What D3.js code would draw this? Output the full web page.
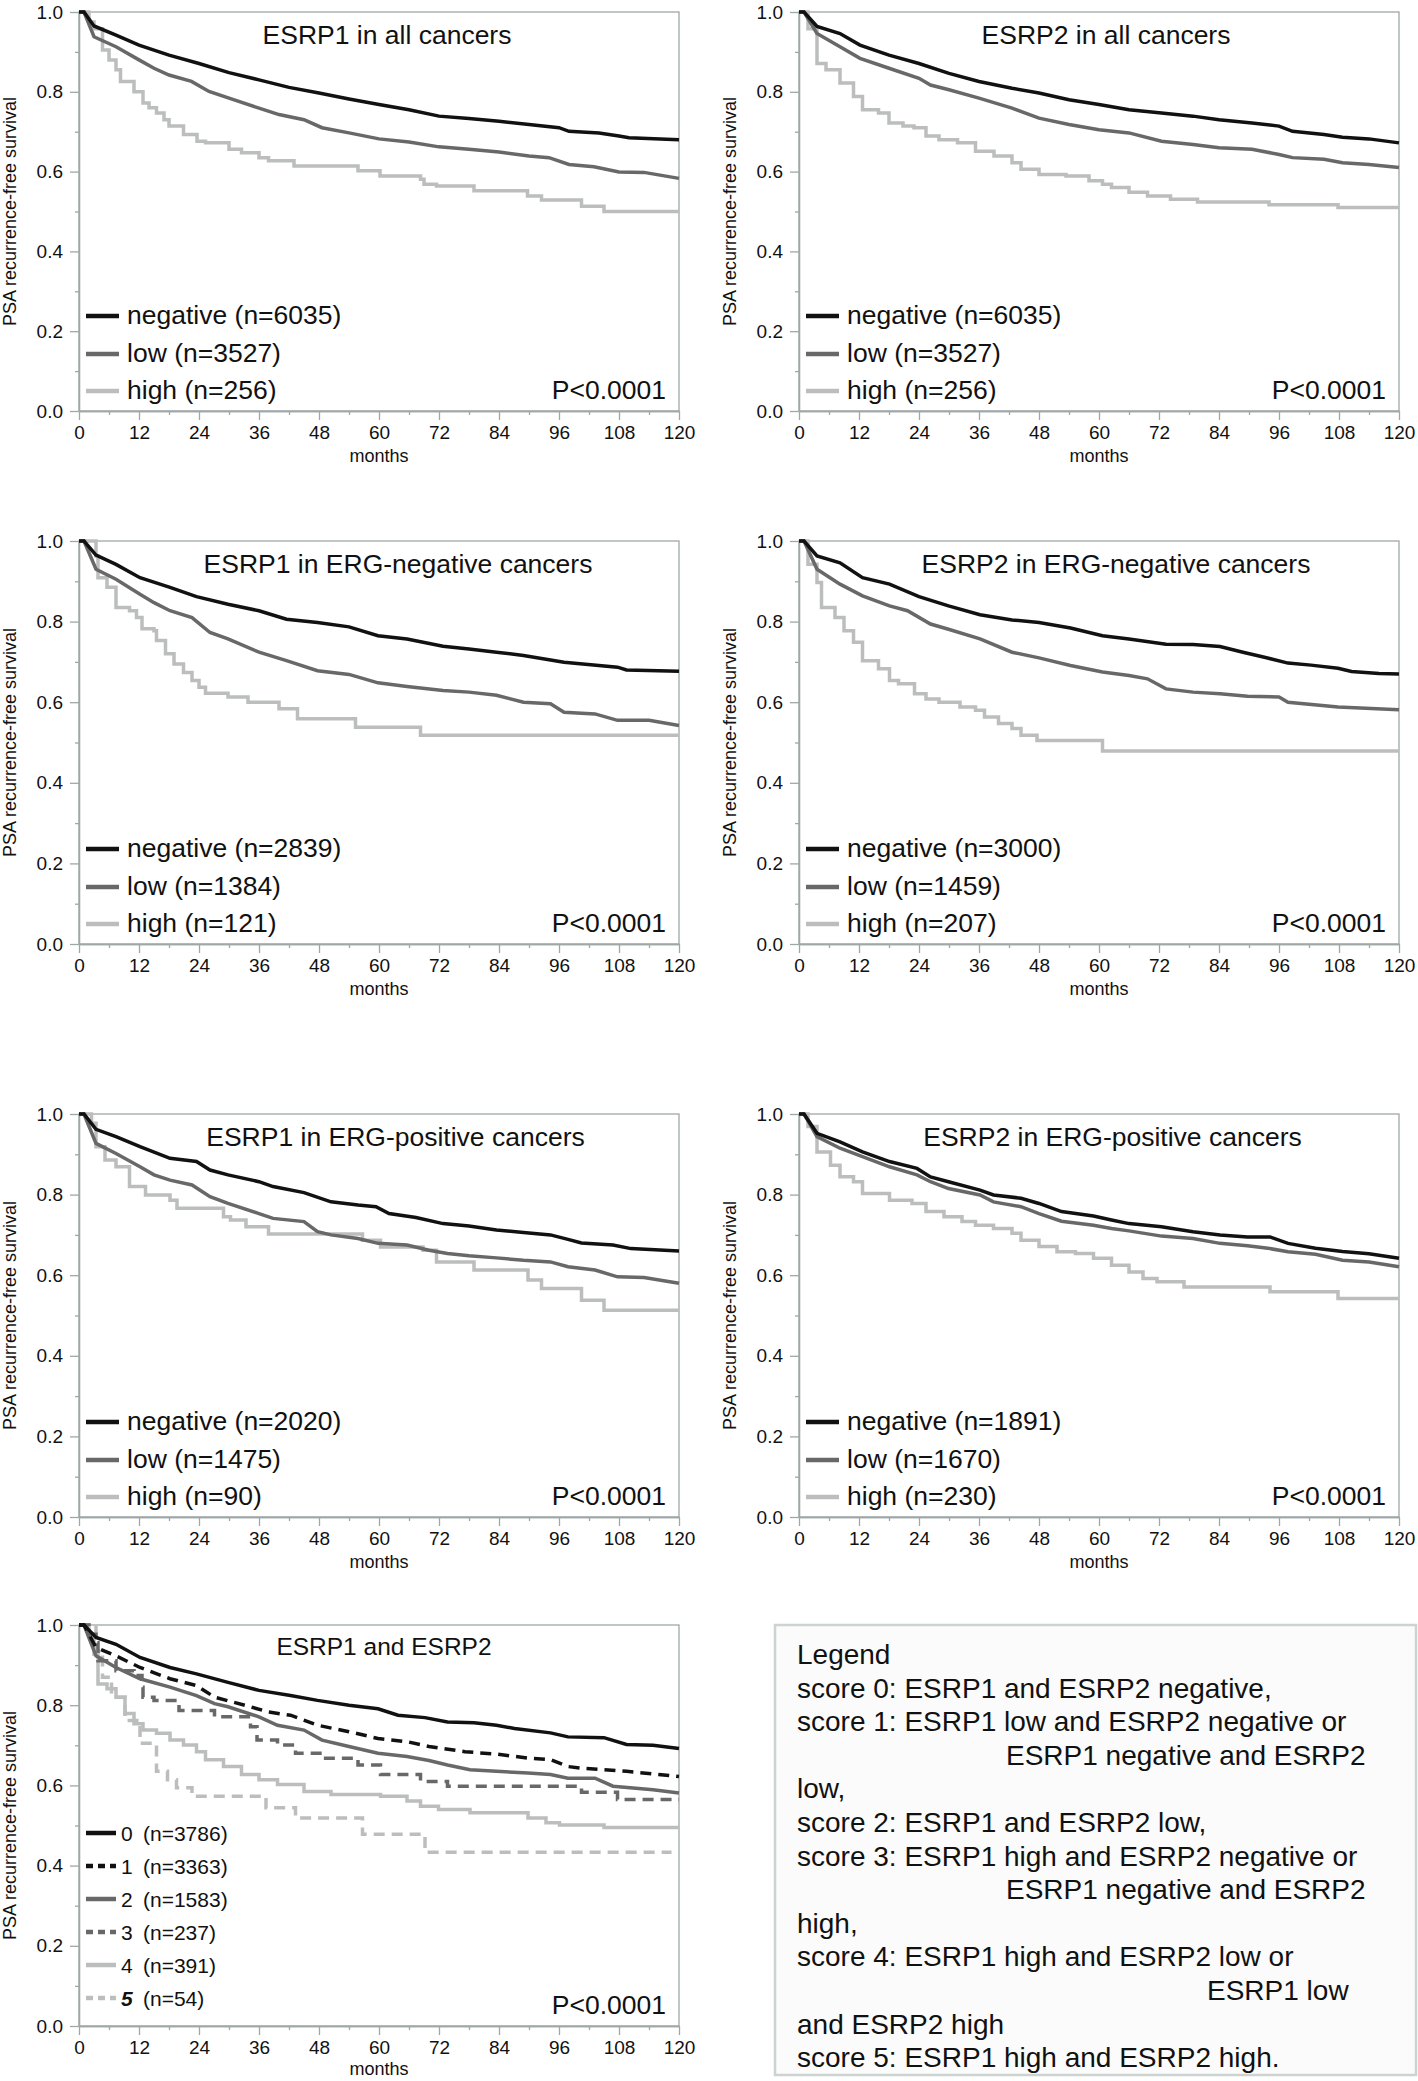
<!DOCTYPE html>
<html>
<head>
<meta charset="utf-8">
<script src="https://cdn.jsdelivr.net/npm/d3@7"></script>
<style>
  body { margin: 0; background: #fff; }
  svg { display: block; }
  text { font-family: "Liberation Sans", Arial, Helvetica, sans-serif; }
</style>
</head>
<body>
<div id="graph"></div>
<script>

// ---- values: [month, recurrence-free survival] ----

// ESRP1 in all cancers
const esrp1AllNeg = [[0,1],[1,1],[3,0.965],[7.4,0.942],[12,0.917],[18,0.892],[24,0.871],[30,0.848],[36,0.83],[42,0.811],[48,0.797],[54,0.782],[60,0.768],[66,0.755],[72,0.739],[78,0.733],[84,0.726],[90,0.718],[96,0.71],[98,0.701],[104,0.697],[108,0.689],[110,0.685],[120,0.68]];
const esrp1AllLow = [[0,1],[1,1],[3,0.938],[7.4,0.913],[12,0.88],[15,0.859],[18,0.842],[22.5,0.826],[26,0.801],[30,0.784],[36,0.759],[40,0.743],[45,0.73],[48.6,0.71],[54,0.697],[60,0.682],[66,0.674],[72,0.662],[78,0.656],[84,0.649],[90,0.639],[94,0.635],[98,0.618],[103,0.612],[108,0.599],[113,0.598],[120,0.583]];
const esrp1AllHigh = [[0,1],[1,1],[2,0.975],[3,0.958],[4.7,0.905],[6,0.88],[7.4,0.855],[8.3,0.826],[11,0.8],[12.8,0.772],[14,0.76],[15.5,0.747],[17,0.73],[18,0.714],[20.9,0.693],[23.6,0.676],[25.3,0.672],[30,0.656],[32.5,0.647],[36,0.635],[37.9,0.627],[43,0.614],[55.8,0.602],[60.2,0.589],[68.3,0.581],[69,0.568],[71.5,0.564],[79,0.552],[89.7,0.539],[92.5,0.529],[100.5,0.513],[105,0.5],[120,0.5]];

// ESRP2 in all cancers
const esrp2AllNeg = [[0,1],[1,1],[3.6,0.964],[8.2,0.946],[12.2,0.917],[18,0.892],[24,0.871],[30,0.846],[36,0.826],[42.6,0.809],[48,0.797],[54,0.78],[60,0.768],[66,0.755],[72.5,0.747],[78.8,0.739],[84,0.73],[90.6,0.722],[96,0.714],[98.7,0.701],[105,0.693],[108.7,0.686],[114,0.682],[120,0.672]];
const esrp2AllLow = [[0,1],[1,1],[3.6,0.946],[8.2,0.913],[12.2,0.884],[18,0.859],[24,0.834],[26.3,0.817],[30,0.805],[36,0.784],[42.6,0.759],[48,0.734],[54,0.718],[60,0.705],[66,0.697],[72.5,0.676],[78.8,0.668],[84,0.66],[90.6,0.656],[96,0.643],[98.7,0.635],[105,0.631],[108.7,0.622],[114,0.618],[120,0.61]];
const esrp2AllHigh = [[0,1],[1,1],[1.8,0.958],[3.6,0.871],[5.4,0.855],[8.2,0.822],[10.9,0.788],[12.7,0.755],[15.9,0.747],[18,0.722],[20.8,0.714],[23,0.71],[25.4,0.689],[28,0.68],[31.7,0.672],[35.3,0.651],[39,0.639],[42.6,0.622],[44.4,0.606],[48,0.593],[53.4,0.589],[58,0.577],[60.7,0.568],[62.5,0.56],[66,0.548],[69.7,0.539],[74.3,0.531],[79.7,0.524],[94,0.517],[107.8,0.51],[120,0.51]];

// ESRP1 in ERG-negative cancers
const esrp1ErgNegNeg = [[0,1],[1,1],[3.4,0.965],[7.4,0.942],[12.2,0.909],[18.2,0.885],[23.5,0.862],[29.8,0.843],[36,0.827],[41.5,0.806],[47.7,0.798],[54,0.787],[59.8,0.765],[65.6,0.757],[72.8,0.739],[78,0.732],[83.5,0.724],[88.9,0.716],[97,0.699],[107.7,0.687],[109.5,0.68],[120,0.677]];
const esrp1ErgNegLow = [[0,1],[1,1],[3.4,0.93],[7.4,0.905],[12.2,0.868],[15,0.847],[18.2,0.827],[22.6,0.81],[26.2,0.773],[29.8,0.757],[36,0.724],[41.5,0.703],[47.7,0.678],[54,0.669],[59.8,0.648],[65.6,0.639],[72.8,0.629],[78,0.625],[83.5,0.617],[88.9,0.6],[94.3,0.596],[97,0.575],[103.2,0.571],[107.7,0.555],[114,0.555],[120,0.542]];
const esrp1ErgNegHigh = [[0,1],[1.2,1],[3.4,0.963],[3.8,0.909],[5.6,0.885],[7.4,0.835],[10.1,0.827],[11.5,0.81],[12.6,0.782],[15,0.777],[15.5,0.753],[17.3,0.72],[19,0.695],[20.9,0.674],[22.6,0.654],[24,0.637],[25.3,0.622],[29.8,0.613],[33.8,0.6],[40,0.584],[43.7,0.559],[55.3,0.538],[68.3,0.518],[120,0.518]];

// ESRP2 in ERG-negative cancers
const esrp2ErgNegNeg = [[0,1],[1,1],[3.6,0.963],[8.2,0.946],[12.7,0.909],[18.1,0.893],[24,0.862],[29.9,0.839],[36.2,0.817],[42.6,0.804],[48,0.798],[54.3,0.784],[60.7,0.765],[66,0.757],[73.4,0.744],[78.8,0.743],[84.2,0.738],[88.8,0.724],[93.3,0.711],[97.8,0.697],[102.4,0.692],[107.8,0.684],[110.5,0.676],[116,0.671],[120,0.67]];
const esrp2ErgNegLow = [[0,1],[1,1],[3.6,0.93],[8.2,0.893],[12.7,0.864],[18.1,0.839],[21.7,0.827],[26.3,0.794],[29.9,0.781],[36.2,0.757],[42.6,0.724],[48,0.71],[54.3,0.691],[60.7,0.675],[66,0.666],[69.7,0.658],[73.4,0.633],[78.8,0.625],[84.2,0.621],[89.7,0.615],[96,0.613],[97.8,0.6],[107.8,0.588],[120,0.581]];
const esrp2ErgNegHigh = [[0,1],[1,1],[1.8,0.942],[3.6,0.897],[4.5,0.835],[7.2,0.81],[9,0.777],[10.9,0.749],[12.7,0.703],[15.9,0.683],[18.1,0.654],[19.9,0.646],[23.1,0.621],[25.4,0.608],[28,0.6],[32.2,0.588],[35.3,0.58],[37.1,0.563],[39.9,0.547],[42.6,0.535],[44.4,0.518],[47.6,0.505],[60.7,0.479],[120,0.479]];

// ESRP1 in ERG-positive cancers
const esrp1ErgPosNeg = [[0,1],[1,1],[3.4,0.962],[7.4,0.944],[12.2,0.919],[18.2,0.89],[23.5,0.882],[26.2,0.861],[29.8,0.849],[36,0.832],[38.8,0.82],[45,0.805],[50.4,0.782],[55.8,0.774],[59.4,0.77],[62,0.753],[67.4,0.743],[72.8,0.728],[78,0.722],[83.5,0.712],[88.9,0.706],[94.3,0.7],[97.8,0.689],[100.5,0.68],[106.8,0.675],[110.4,0.666],[120,0.66]];
const esrp1ErgPosLow = [[0,1],[1,1],[3.4,0.927],[7.4,0.902],[12.2,0.869],[15,0.849],[18.2,0.836],[22.6,0.824],[26.2,0.795],[29.8,0.778],[36,0.753],[38.8,0.741],[45,0.733],[47.7,0.708],[50.4,0.7],[55.8,0.691],[59.8,0.679],[65.6,0.675],[70,0.662],[73.7,0.654],[78,0.648],[83.5,0.643],[88.9,0.637],[94.3,0.633],[97.8,0.621],[103.2,0.613],[107.7,0.596],[113,0.594],[120,0.58]];
const esrp1ErgPosHigh = [[0,1],[1.2,1],[2.5,0.977],[3.4,0.919],[5.2,0.886],[7.4,0.869],[10.1,0.82],[13.3,0.799],[18.2,0.786],[19.6,0.766],[28.9,0.745],[30.3,0.737],[33.4,0.72],[37.9,0.702],[56.7,0.687],[60.3,0.67],[68.8,0.662],[71.5,0.633],[79,0.613],[89.8,0.588],[92.5,0.567],[100.5,0.538],[105,0.513],[120,0.513]];

// ESRP2 in ERG-positive cancers
const esrp2ErgPosNeg = [[0,1],[1,1],[3.6,0.952],[8.2,0.931],[12.7,0.906],[18.1,0.882],[23.6,0.865],[26.3,0.844],[29.9,0.832],[36.2,0.811],[38.9,0.799],[44.4,0.791],[48,0.778],[52.5,0.758],[58.9,0.747],[62.5,0.737],[66,0.728],[72.5,0.72],[78.8,0.708],[84.2,0.7],[89.7,0.695],[94.2,0.695],[97.8,0.679],[103.3,0.667],[108.7,0.659],[114,0.653],[120,0.642]];
const esrp2ErgPosLow = [[0,1],[1,1],[3.6,0.944],[8.2,0.915],[12.7,0.894],[18.1,0.869],[23.6,0.849],[26.3,0.832],[29.9,0.815],[36.2,0.799],[38.9,0.782],[44.4,0.77],[48,0.753],[52.5,0.734],[58.9,0.724],[62.5,0.716],[66,0.71],[72.5,0.697],[78.8,0.691],[84.2,0.679],[89.7,0.673],[94.2,0.666],[97.8,0.658],[103.3,0.652],[108.7,0.637],[114,0.633],[120,0.621]];
const esrp2ErgPosHigh = [[0,1],[1,1],[1.8,0.969],[3.6,0.906],[6.3,0.873],[8.2,0.844],[10.9,0.832],[12.7,0.803],[18.1,0.786],[22.6,0.778],[25.4,0.758],[29,0.745],[32.6,0.733],[35.3,0.724],[38.9,0.716],[42.6,0.704],[44.4,0.687],[48,0.671],[51.6,0.658],[55.3,0.654],[58.9,0.642],[62.5,0.625],[66,0.608],[68.8,0.592],[71.6,0.584],[77,0.571],[94.2,0.559],[107.8,0.542],[120,0.542]];

// ESRP1 and ESRP2 combined score 0..5
const score0 = [[0,1],[1,1],[3.4,0.969],[7.4,0.952],[12.2,0.919],[18.2,0.894],[23.5,0.878],[29.8,0.857],[36,0.837],[42.3,0.824],[47.7,0.812],[54,0.8],[59.8,0.791],[63.8,0.775],[69.2,0.769],[73.7,0.758],[79,0.756],[83.5,0.75],[87.1,0.742],[94.3,0.731],[97.8,0.721],[105,0.719],[109.5,0.702],[114.8,0.7],[120,0.692]];
const score1 = [[0,1],[1,1],[3.4,0.944],[7.4,0.923],[12.2,0.894],[18.2,0.866],[23.5,0.849],[27.1,0.82],[34.3,0.796],[37.9,0.783],[42.3,0.775],[47.7,0.75],[54,0.734],[59.8,0.717],[65.6,0.709],[70,0.697],[77.2,0.684],[83.5,0.678],[89.8,0.668],[94.3,0.664],[97.8,0.647],[100.5,0.643],[109.5,0.635],[120,0.622]];
const score2 = [[0,1],[1,1],[3.4,0.923],[7.4,0.894],[12.2,0.866],[18.2,0.845],[23.5,0.824],[27.1,0.804],[29.8,0.796],[36,0.771],[39.7,0.75],[45,0.738],[48.6,0.713],[54,0.697],[59.8,0.68],[65.6,0.672],[70,0.662],[73.7,0.651],[78.2,0.639],[83.5,0.635],[89.8,0.631],[94.3,0.627],[97.8,0.618],[103.2,0.618],[106.8,0.598],[114.8,0.589],[120,0.581]];
const score3 = [[0,1],[2,0.977],[3.4,0.956],[3.8,0.911],[7.4,0.886],[11,0.874],[12.6,0.845],[12.8,0.82],[15,0.812],[20,0.787],[27.1,0.771],[34.3,0.746],[35.6,0.713],[39.7,0.701],[43.3,0.68],[48.6,0.668],[55.8,0.651],[60.3,0.627],[68.3,0.61],[73.7,0.598],[100.5,0.583],[107.7,0.565],[120,0.565]];
const score4 = [[0,1],[2,0.977],[3,0.927],[3.8,0.853],[5.6,0.841],[7.4,0.82],[9.2,0.779],[11,0.754],[12.8,0.738],[15.5,0.73],[18.2,0.713],[20.9,0.701],[23.5,0.684],[25.3,0.664],[28.9,0.647],[32.5,0.627],[36,0.614],[39.7,0.602],[45,0.585],[50.4,0.577],[60.3,0.573],[65.6,0.561],[68.3,0.548],[71.9,0.54],[78.2,0.532],[89.8,0.519],[93.4,0.507],[96.1,0.501],[105,0.495],[120,0.495]];
const score5 = [[0,1],[2,1],[3.4,0.936],[4.7,0.87],[6.5,0.82],[9.2,0.762],[12.2,0.705],[15.5,0.635],[17.7,0.614],[19.5,0.594],[22.6,0.573],[37.4,0.544],[43.3,0.519],[56.7,0.478],[69.2,0.433],[118.5,0.433]];

// ---- labels ----
const panelTitles = ["ESRP1 in all cancers", "ESRP2 in all cancers",
  "ESRP1 in ERG-negative cancers", "ESRP2 in ERG-negative cancers",
  "ESRP1 in ERG-positive cancers", "ESRP2 in ERG-positive cancers",
  "ESRP1 and ESRP2"];
const groupNames = ["negative", "low", "high"];
const esrp1AllN = [6035, 3527, 256];
const esrp2AllN = [6035, 3527, 256];
const esrp1ErgNegN = [2839, 1384, 121];
const esrp2ErgNegN = [3000, 1459, 207];
const esrp1ErgPosN = [2020, 1475, 90];
const esrp2ErgPosN = [1891, 1670, 230];
const scoreNames = ["0", "1", "2", "3", "4", "5"];
const scoreN = [3786, 3363, 1583, 237, 391, 54];
const pValue = "P<0.0001";

const monthTicks = [0, 12, 24, 36, 48, 60, 72, 84, 96, 108, 120];
const monthMinor = [6, 18, 30, 42, 54, 66, 78, 90, 102, 114];
const survTicks = [0, 0.2, 0.4, 0.6, 0.8, 1.0];
const survMinor = [0.1, 0.3, 0.5, 0.7, 0.9];
const xTitle = "months";
const yTitle = "PSA recurrence-free survival";

const legendLines = ["Legend",
  "score 0: ESRP1 and ESRP2 negative,",
  "score 1: ESRP1 low and ESRP2 negative or",
  "ESRP1 negative and ESRP2",
  "low,",
  "score 2: ESRP1 and ESRP2 low,",
  "score 3: ESRP1 high and ESRP2 negative or",
  "ESRP1 negative and ESRP2",
  "high,",
  "score 4: ESRP1 high and ESRP2 low or",
  "ESRP1 low",
  "and ESRP2 high",
  "score 5: ESRP1 high and ESRP2 high."];
const legendIndent = [797, 797, 797, 1006, 797, 797, 797, 1006, 797, 797, 1207, 797, 797];

// ---- layout ----
const W = 1418, H = 2081;
const colLeft = [79, 799];
const rowTop = [12, 541, 1114, 1625];
const rowH = [399, 403, 403, 401];
const plotW = 600;
const axisColor = "#9ea8a6";
const black = "#111", dark = "#686868", light = "#bcbebd";

function three(data, counts) {
  return [
    { data: data[0], color: black, step: false, label: groupNames[0], n: counts[0] },
    { data: data[1], color: dark, step: false, label: groupNames[1], n: counts[1] },
    { data: data[2], color: light, step: true, label: groupNames[2], n: counts[2] }
  ];
}

const panels = [
  { col: 0, row: 0, title: panelTitles[0], titleAt: 61.6, series: three([esrp1AllNeg, esrp1AllLow, esrp1AllHigh], esrp1AllN) },
  { col: 1, row: 0, title: panelTitles[1], titleAt: 61.4, series: three([esrp2AllNeg, esrp2AllLow, esrp2AllHigh], esrp2AllN) },
  { col: 0, row: 1, title: panelTitles[2], titleAt: 63.8, series: three([esrp1ErgNegNeg, esrp1ErgNegLow, esrp1ErgNegHigh], esrp1ErgNegN) },
  { col: 1, row: 1, title: panelTitles[3], titleAt: 63.4, series: three([esrp2ErgNegNeg, esrp2ErgNegLow, esrp2ErgNegHigh], esrp2ErgNegN) },
  { col: 0, row: 2, title: panelTitles[4], titleAt: 63.3, series: three([esrp1ErgPosNeg, esrp1ErgPosLow, esrp1ErgPosHigh], esrp1ErgPosN) },
  { col: 1, row: 2, title: panelTitles[5], titleAt: 62.7, series: three([esrp2ErgPosNeg, esrp2ErgPosLow, esrp2ErgPosHigh], esrp2ErgPosN) },
  { col: 0, row: 3, title: panelTitles[6], titleAt: 61, combined: true, series: [
    { data: score0, color: black, step: false, label: scoreNames[0], n: scoreN[0] },
    { data: score1, color: black, step: false, dash: true, label: scoreNames[1], n: scoreN[1] },
    { data: score2, color: dark, step: false, label: scoreNames[2], n: scoreN[2] },
    { data: score3, color: dark, step: true, dash: true, label: scoreNames[3], n: scoreN[3] },
    { data: score4, color: light, step: true, label: scoreNames[4], n: scoreN[4] },
    { data: score5, color: light, step: true, dash: true, label: scoreNames[5], n: scoreN[5], bold: true }
  ] }
];

const svg = d3.select("#graph").append("svg")
  .attr("width", W)
  .attr("height", H);

svg.append("rect").attr("width", W).attr("height", H).attr("fill", "#fff");

function styleAxis(g) {
  g.attr("font-family", null).attr("font-size", 19).attr("color", axisColor);
  g.selectAll(".domain").attr("stroke-width", 1.3);
  g.selectAll(".tick line").attr("stroke-width", 1.3);
  g.selectAll(".tick text").attr("fill", "#111");
}

function drawPanel(p) {
  const x0 = colLeft[p.col], top = rowTop[p.row], plotH = rowH[p.row], bottom = top + plotH;
  const x = d3.scaleLinear().domain([0, 120]).range([x0, x0 + plotW]);
  const y = d3.scaleLinear().domain([0, 1]).range([bottom, top]);
  const g = svg.append("g");

  // frame
  g.append("rect")
    .attr("x", x0).attr("y", top)
    .attr("width", plotW).attr("height", plotH)
    .attr("fill", "none")
    .attr("stroke", axisColor)
    .attr("stroke-width", 1.3);

  g.append("g").attr("transform", "translate(0," + bottom + ")")
    .call(d3.axisBottom(x).tickValues(monthMinor).tickSize(4).tickSizeOuter(0).tickFormat(""))
    .call(styleAxis);
  g.append("g").attr("transform", "translate(0," + bottom + ")")
    .call(d3.axisBottom(x).tickValues(monthTicks).tickSize(9).tickSizeOuter(0).tickPadding(6))
    .call(styleAxis);
  g.append("g").attr("transform", "translate(" + x0 + ",0)")
    .call(d3.axisLeft(y).tickValues(survMinor).tickSize(4).tickSizeOuter(0).tickFormat(""))
    .call(styleAxis);
  g.append("g").attr("transform", "translate(" + x0 + ",0)")
    .call(d3.axisLeft(y).tickValues(survTicks).tickSize(9).tickSizeOuter(0).tickPadding(7).tickFormat(d3.format(".1f")))
    .call(styleAxis);

  // axis titles
  g.append("text")
    .attr("x", x0 + plotW / 2).attr("y", Math.min(bottom + 51, H - 6))
    .attr("text-anchor", "middle")
    .style("font-size", "18px")
    .attr("fill", "#111")
    .text(xTitle);
  g.append("text")
    .attr("transform", "translate(" + (x0 - 63) + "," + (top + plotH / 2) + ") rotate(-90)")
    .attr("text-anchor", "middle")
    .style("font-size", "18px")
    .attr("fill", "#111")
    .text(yTitle);

  // title
  g.append("text")
    .attr("x", x(p.titleAt)).attr("y", top + (p.combined ? 30 : 32))
    .attr("text-anchor", "middle")
    .style("font-size", p.combined ? "24.5px" : "26.5px")
    .attr("fill", "#111")
    .text(p.title);

  // curves, lightest first
  const clip = "clip" + p.col + p.row;
  g.append("clipPath").attr("id", clip)
    .append("rect").attr("x", x0).attr("y", top - 3).attr("width", plotW + 2).attr("height", plotH + 3);

  p.series.slice().reverse().forEach(s => {
    const line = d3.line()
      .x(d => x(d[0]))
      .y(d => y(d[1]))
      .curve(s.step ? d3.curveStepAfter : d3.curveLinear);
    g.append("path")
      .datum(s.data)
      .attr("clip-path", "url(#" + clip + ")")
      .attr("fill", "none")
      .attr("stroke", s.color)
      .attr("stroke-width", 3.5)
      .attr("stroke-dasharray", s.dash ? "11,7" : null)
      .attr("d", line);
  });

  // legend
  if (p.combined) {
    p.series.forEach((s, i) => {
      const ly = bottom - 193 + i * 33;
      g.append("line")
        .attr("x1", x0 + 7).attr("x2", x0 + 37)
        .attr("y1", ly).attr("y2", ly)
        .attr("stroke", s.color).attr("stroke-width", 4.5)
        .attr("stroke-dasharray", s.dash ? "7,5" : null);
      g.append("text")
        .attr("x", x0 + 42).attr("y", ly + 7.5)
        .style("font-size", "21px")
        .style("font-weight", s.bold ? "bold" : null)
        .style("font-style", s.bold ? "italic" : null)
        .attr("fill", "#111")
        .text(s.label);
      g.append("text")
        .attr("x", x0 + 64).attr("y", ly + 7.5)
        .style("font-size", "21px")
        .attr("fill", "#111")
        .text("(n=" + s.n + ")");
    });
  } else {
    p.series.forEach((s, i) => {
      const ly = bottom + [-95, -57, -20][i];
      g.append("line")
        .attr("x1", x0 + 7).attr("x2", x0 + 40)
        .attr("y1", ly).attr("y2", ly)
        .attr("stroke", s.color).attr("stroke-width", 4.5);
      g.append("text")
        .attr("x", x0 + 48).attr("y", ly + 7.5)
        .style("font-size", "26.5px")
        .attr("fill", "#111")
        .text(s.label + " (n=" + s.n + ")");
    });
  }

  g.append("text")
    .attr("x", x0 + plotW - 13).attr("y", bottom - 12)
    .attr("text-anchor", "end")
    .style("font-size", "26.5px")
    .attr("fill", "#111")
    .text(pValue);
}

panels.forEach(drawPanel);

// score legend box
const box = svg.append("g");
box.append("rect")
  .attr("x", 775).attr("y", 1625)
  .attr("width", 641).attr("height", 450)
  .attr("fill", "#fafbfa")
  .attr("stroke", "#cbd4d1")
  .attr("stroke-width", 2.5);
box.selectAll("text.leg")
  .data(legendLines)
  .enter().append("text")
  .attr("class", "leg")
  .attr("x", (d, i) => legendIndent[i])
  .attr("y", (d, i) => 1664 + i * 33.6)
  .style("font-size", "28px")
  .attr("fill", "#111")
  .text(d => d);

</script>
</body>
</html>
